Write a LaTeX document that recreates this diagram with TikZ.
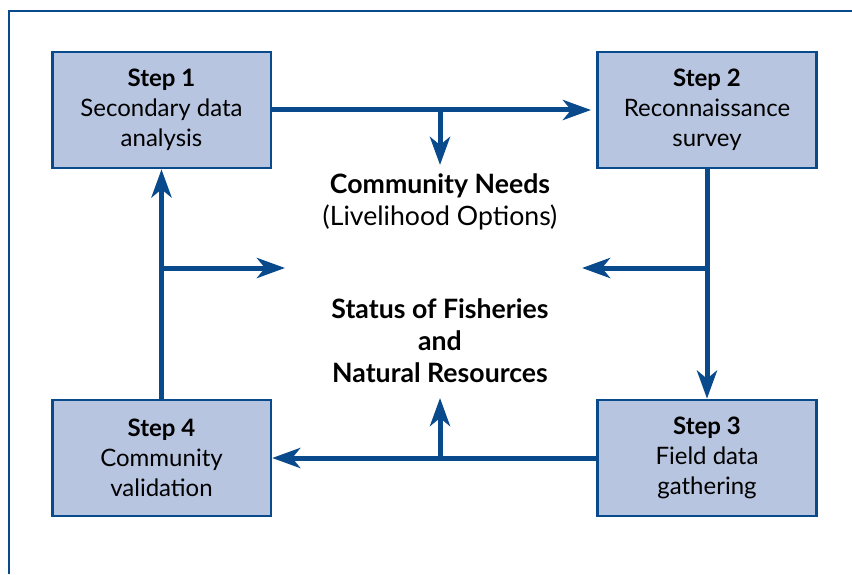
\documentclass[tikz,border=0pt]{standalone}
\usepackage{fontspec}
\setmainfont{Lato}
\usetikzlibrary{arrows.meta}
\definecolor{navy}{RGB}{8,74,140}
\definecolor{paleblue}{RGB}{184,197,224}

\begin{document}
\begin{tikzpicture}[x=0.75pt,y=-0.75pt,
      StepBox/.style={
        draw=navy, line width=2pt, fill=paleblue,
        minimum width=164pt, minimum height=87pt,
        align=center, font=\fontsize{18}{22.5}\selectfont,
      },
      Flow/.style={
        navy, line width=3.75pt,
        -{Stealth[length=21pt,width=15pt,inset=6pt]},
      },
      Hub/.style={
        align=center, font=\fontsize{20}{24}\selectfont,
      },
      ]
      \useasboundingbox (0,0) rectangle (852,574);
      \draw[navy, line width=1.5pt] (852,11) -- (9,11) -- (9,574);

      \node[StepBox] (s1) at (161.5,110) {\textbf{Step 1}\\Secondary data\\analysis};
      \node[StepBox] (s2) at (707,110) {\textbf{Step 2}\\Reconnaissance\\survey};
      \node[StepBox] (s3) at (707,458) {\textbf{Step 3}\\Field data\\gathering};
      \node[StepBox] (s4) at (161.5,458) {\textbf{Step 4}\\Community\\validation};

      \node[Hub] (needs) at (440,202) {\textbf{Community Needs}\\(Livelihood Options)};
      \node[Hub, font=\fontsize{20}{24}\selectfont\bfseries] (status) at (440,341)
        {Status of Fisheries\\and\\Natural Resources};

      % branch points on the main loop
      \coordinate (j1) at (440,110);
      \coordinate (j2) at (707,268);
      \coordinate (j3) at (440,458);
      \coordinate (j4) at (161.5,268);
      % free ends of the branches
      \coordinate (e1) at (440,165);
      \coordinate (e2) at (582,268);
      \coordinate (e3) at (440,398);
      \coordinate (e4) at (285,268);

      \draw[Flow, shorten >=4pt] (s1) -- (s2);
      \draw[Flow] (s2) -- (s3);
      \draw[Flow] (s3) -- (s4);
      \draw[Flow] (s4) -- (s1);

      \draw[Flow] (j1) -- (e1);
      \draw[Flow] (j2) -- (e2);
      \draw[Flow] (j3) -- (e3);
      \draw[Flow] (j4) -- (e4);
    \end{tikzpicture}
\end{document}
